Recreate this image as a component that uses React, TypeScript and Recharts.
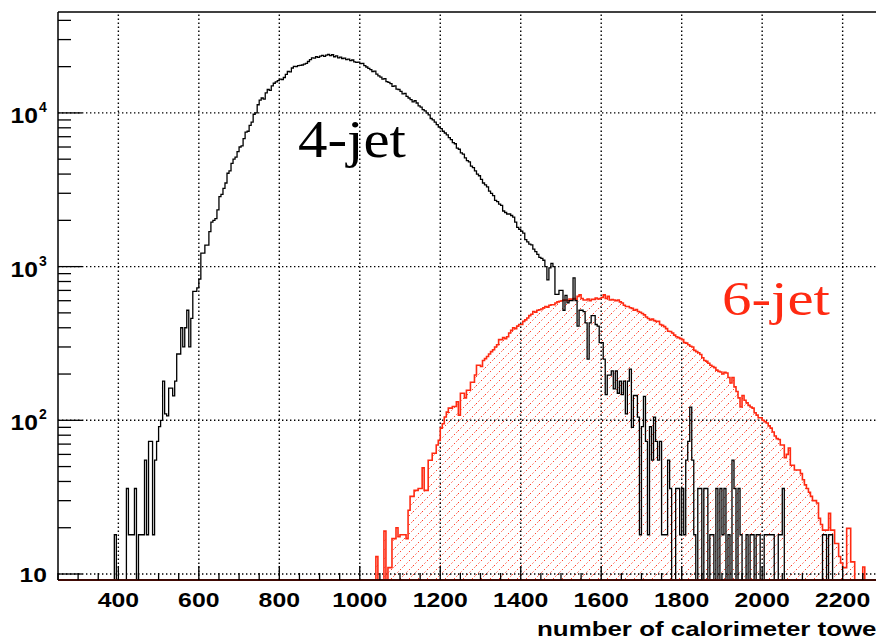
import React from 'react';
import { ComposedChart, Line, Area, XAxis, YAxis, ReferenceLine } from 'recharts';

const X_MIN = 250;
const X_MAX = 2350;
const BIN_WIDTH = 5;
const Y_MIN = 9.14;
const Y_MAX = 45350;

// 4-jet histogram, bins of 5 towers starting at 390
const FOUR_JET_START = 390;
const FOUR_JET: number[] = [
  18, 0, 0, 0, 0, 0, 36, 18, 18, 18,
  36, 0, 18, 18, 18, 55, 18, 73, 73, 18,
  55, 73, 91, 100, 180, 110, 107, 162, 162, 144,
  180, 270, 270, 400, 300, 400, 520, 300, 460, 690,
  690, 727, 830, 1225, 1225, 1380, 1380, 1690, 1950, 2000,
  2050, 2340, 2850, 2950, 3230, 3500, 4050, 4200, 4700, 5000,
  5150, 5600, 6000, 6100, 6800, 7500, 7600, 8300, 8700, 9800,
  10000, 11300, 12100, 12500, 12300, 13500, 14200, 14000, 15000, 15600,
  15900, 16200, 16600, 16500, 17000, 17800, 18600, 18500, 19600, 20100,
  20000, 20300, 20400, 20500, 20800, 21000, 21600, 22200, 22800, 22700,
  23200, 23000, 23400, 23700, 23300, 23800, 24000, 23600, 23900, 23200,
  23500, 22800, 23100, 22600, 22700, 22200, 22400, 21900, 22100, 21500,
  21300, 21400, 20900, 21000, 20300, 19900, 19500, 19100, 18600, 18700,
  17900, 17400, 17100, 16600, 16700, 16000, 15800, 15500, 14900, 15000,
  14300, 14200, 13800, 13300, 13400, 12800, 12500, 12200, 11800, 12000,
  11600, 11100, 10900, 10500, 10300, 10000, 9700, 9200, 9000, 8700,
  8400, 8100, 7900, 7600, 7400, 7200, 6900, 6700, 6400, 6300,
  5900, 5800, 5500, 5400, 5100, 4900, 4800, 4500, 4400, 4200,
  4000, 3900, 3700, 3500, 3400, 3300, 3100, 3000, 2900, 2700,
  2650, 2550, 2500, 2300, 2250, 2200, 2200, 2150, 2100, 1950,
  1800, 1750, 1700, 1650, 1500, 1450, 1400, 1385, 1300, 1250,
  1200, 1150, 1130, 1100, 1000, 820, 980, 1050, 1000, 660,
  660, 700, 700, 520, 650, 580, 600, 600, 845, 600,
  410, 520, 520, 510, 430, 250, 430, 480, 480, 420,
  410, 320, 320, 250, 147, 197, 197, 210, 160, 210,
  150, 180, 147, 180, 110, 180, 215, 90, 145, 145,
  105, 18, 91, 143, 73, 18, 91, 55, 105, 73,
  55, 73, 18, 18, 18, 55, 36, 0, 0, 36,
  36, 18, 36, 18, 55, 73, 122, 55, 18, 0,
  36, 36, 0, 36, 36, 0, 18, 18, 0, 36,
  0, 36, 18, 36, 0, 18, 0, 55, 36, 0,
  36, 18, 0, 0, 18, 0, 18, 18, 0, 18,
  18, 0, 0, 18, 18, 18, 18, 18, 0, 0,
  18, 18, 36, 0, 0, 0, 0, 0, 0, 0,
  0, 0, 0, 0, 0, 0, 0, 0, 0, 0,
  0, 0, 18, 18, 0, 18, 18, 0, 0, 0,
  0, 0, 0,
];

// 6-jet histogram, bins of 5 towers starting at 1040
const SIX_JET_START = 1040;
const SIX_JET: number[] = [
  13, 0, 0, 0, 19, 0, 11, 11, 17, 17,
  20, 17.5, 18, 18, 18, 17, 26, 32, 32, 35,
  35, 36, 36, 49, 35, 35, 55, 55, 61, 61,
  69, 74, 89, 95, 105, 113, 120, 120, 123, 123,
  132, 108, 150, 150, 140, 157, 157, 177, 177, 197,
  228, 228, 224, 245, 252, 260, 270, 280, 288, 300,
  310, 335, 335, 345, 340, 350, 370, 385, 400, 395,
  410, 420, 420, 440, 450, 463, 480, 490, 510, 505,
  520, 524, 530, 540, 550, 545, 560, 565, 565, 580,
  590, 595, 600, 605, 607, 600, 615, 612, 620, 612,
  640, 655, 620, 607, 607, 615, 600, 612, 612, 625,
  615, 620, 630, 655, 620, 640, 607, 610, 607, 600,
  607, 590, 580, 560, 550, 550, 540, 535, 520, 525,
  510, 505, 495, 485, 470, 460, 450, 455, 445, 440,
  440, 420, 415, 407, 395, 380, 378, 370, 358, 350,
  345, 340, 335, 320, 318, 310, 303, 300, 285, 280,
  275, 268, 255, 245, 242, 235, 228, 224, 220, 212,
  208, 206, 200, 205, 203, 190, 175, 190, 165, 154,
  140, 122, 145, 135, 130, 125, 122, 120, 112, 108,
  104, 104, 100, 98, 96, 92, 89, 84, 79, 76,
  75, 69, 69, 57, 60, 66, 51, 51, 47.5, 47.5,
  47.5, 45, 41, 38, 36, 34, 32, 30, 30, 29,
  23, 21, 19.3, 19.3, 19.3, 24.8, 19.3, 19.3, 15.8, 15.8,
  13, 11.8, 11, 11, 19.8, 19.8, 12, 12, 0, 0,
  0, 0, 11.1, 0,
];

const X_LABELS = [400, 600, 800, 1000, 1200, 1400, 1600, 1800, 2000, 2200];
const X_TICK_STEP = 50;
const Y_DECADES = [10, 100, 1000, 10000];
const Y_MINOR = [
  20, 30, 40, 50, 60, 70, 80, 90,
  200, 300, 400, 500, 600, 700, 800, 900,
  2000, 3000, 4000, 5000, 6000, 7000, 8000, 9000,
  20000, 30000, 40000,
];
const SUPERSCRIPTS: Record<number, string> = { 100: '2', 1000: '3', 10000: '4' };

const RED = '#ff2a12';
const LABEL_FONT = '"Liberation Sans", Arial, Helvetica, sans-serif';
const SERIF_FONT = '"Liberation Serif", "Times New Roman", serif';

const X_TICKS: number[] = [];
for (let v = X_MIN; v <= X_MAX; v += X_TICK_STEP) X_TICKS.push(v);
const Y_TICKS = [...Y_DECADES, ...Y_MINOR].sort((a, b) => a - b);

function binValue(arr: number[], start: number, x: number): number {
  const i = Math.round((x - start) / BIN_WIDTH);
  if (i < 0 || i >= arr.length) return Y_MIN;
  const v = arr[i];
  return v > Y_MIN ? v : Y_MIN;
}

const DATA: { x: number; four: number; six: number }[] = [];
for (let x = X_MIN; x <= X_MAX; x += BIN_WIDTH) {
  DATA.push({ x, four: binValue(FOUR_JET, FOUR_JET_START, x), six: binValue(SIX_JET, SIX_JET_START, x) });
}

const XTick = (props: any) => {
  const { x, y, payload } = props;
  const v = payload.value as number;
  const labeled = X_LABELS.includes(v);
  const len = v % 200 === 0 ? 14 : 7;
  const s = String(v);
  return (
    <g>
      <line x1={x} y1={y} x2={x} y2={y - len} stroke="#000" strokeWidth={1.3} />
      {labeled && (
        <text
          x={x}
          y={y + 27}
          textAnchor="middle"
          fontFamily={LABEL_FONT}
          fontWeight="bold"
          fontSize={20}
          fill="#000"
          textLength={s.length * 13.8}
          lengthAdjust="spacingAndGlyphs"
        >
          {s}
        </text>
      )}
    </g>
  );
};

const YTick = (props: any) => {
  const { x, y, payload } = props;
  const v = payload.value as number;
  const major = Y_DECADES.includes(v);
  const len = major ? 24 : 13;
  const sup = SUPERSCRIPTS[v];
  return (
    <g>
      <line x1={x} y1={y} x2={x + len} y2={y} stroke="#000" strokeWidth={1.3} />
      {major && !sup && (
        <text x={x - 11} y={y + 8} textAnchor="end" fontFamily={LABEL_FONT} fontWeight="bold" fontSize={20} fill="#000" textLength={27.4} lengthAdjust="spacingAndGlyphs">
          10
        </text>
      )}
      {major && sup && (
        <g>
          <text x={x - 20} y={y + 10} textAnchor="end" fontFamily={LABEL_FONT} fontWeight="bold" fontSize={22} fill="#000" textLength={27.4} lengthAdjust="spacingAndGlyphs">
            10
          </text>
          <text x={x - 19} y={y - 1} textAnchor="start" fontFamily={LABEL_FONT} fontWeight="bold" fontSize={14} fill="#000">
            {sup}
          </text>
        </g>
      )}
    </g>
  );
};

export default function App() {
  return (
    <div style={{ position: 'absolute', left: 8, top: 8, width: 868, height: 634, overflow: 'hidden', background: '#fff' }}>
      <ComposedChart
        width={895}
        height={620}
        data={DATA}
        margin={{ top: 4, right: 0, bottom: 0, left: 0 }}
      >
        <defs>
          <pattern id="hatch6" patternUnits="userSpaceOnUse" width="9" height="9">
            <path d="M0,9 L9,0" stroke={RED} strokeWidth={1} strokeDasharray="1.3 2.2" />
          </pattern>
        </defs>
        <XAxis
          type="number"
          dataKey="x"
          domain={[X_MIN, X_MAX]}
          ticks={X_TICKS}
          interval={0}
          tickSize={0}
          tickMargin={0}
          tickLine={false}
          height={48}
          axisLine={{ stroke: '#000', strokeWidth: 1.5 }}
          tick={<XTick />}
        />
        <YAxis
          type="number"
          scale="log"
          domain={[Y_MIN, Y_MAX]}
          ticks={Y_TICKS}
          interval={0}
          tickSize={0}
          tickMargin={0}
          tickLine={false}
          width={50}
          axisLine={{ stroke: '#000', strokeWidth: 1.5 }}
          tick={<YTick />}
        />
        {X_LABELS.map((v) => (
          <ReferenceLine key={'gx' + v} x={v} stroke="#000" strokeWidth={1.4} strokeDasharray="1.4 2.6" />
        ))}
        {Y_DECADES.map((v) => (
          <ReferenceLine key={'gy' + v} y={v} stroke="#000" strokeWidth={1.4} strokeDasharray="1.4 2.6" />
        ))}
        <ReferenceLine y={Y_MAX} stroke="#000" strokeWidth={1.5} />
        <Area
          type="stepAfter"
          dataKey="six"
          baseValue={Y_MIN}
          stroke="none"
          fill="url(#hatch6)"
          fillOpacity={1}
          isAnimationActive={false}
          dot={false}
          activeDot={false}
        />
        <Line
          type="stepAfter"
          dataKey="six"
          stroke={RED}
          strokeWidth={1.6}
          dot={false}
          activeDot={false}
          isAnimationActive={false}
        />
        <Line
          type="stepAfter"
          dataKey="four"
          stroke="#000"
          strokeWidth={1.3}
          dot={false}
          activeDot={false}
          isAnimationActive={false}
        />
        <ReferenceLine y={Y_MIN} stroke={RED} strokeWidth={2} />
      </ComposedChart>
      <svg width={868} height={634} style={{ position: 'absolute', left: 0, top: 0, pointerEvents: 'none' }}>
        <text x={290} y={149} fontFamily={SERIF_FONT} fontSize={52} fill="#000" textLength={108} lengthAdjust="spacingAndGlyphs">
          4-jet
        </text>
        <text x={714} y={307} fontFamily={SERIF_FONT} fontSize={48} fill={RED} textLength={108} lengthAdjust="spacingAndGlyphs">
          6-jet
        </text>
        <text x={529} y={628} fontFamily={LABEL_FONT} fontWeight="bold" fontSize={20} fill="#000" textLength={364} lengthAdjust="spacingAndGlyphs">
          number of calorimeter towers
        </text>
      </svg>
    </div>
  );
}
